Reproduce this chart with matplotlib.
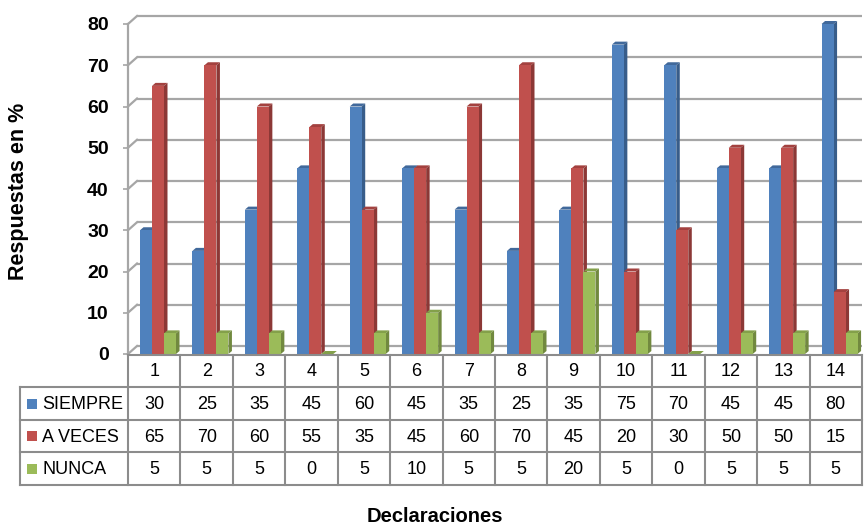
import numpy as np
import matplotlib
matplotlib.use("Agg")
import matplotlib.pyplot as plt
from matplotlib.patches import Polygon, Rectangle

plt.rcParams['font.family'] = ['Liberation Sans', 'DejaVu Sans']

categories = ['1', '2', '3', '4', '5', '6', '7', '8', '9', '10', '11', '12', '13', '14']
series_names = ['SIEMPRE', 'A VECES', 'NUNCA']
siempre = [30, 25, 35, 45, 60, 45, 35, 25, 35, 75, 70, 45, 45, 80]
a_veces = [65, 70, 60, 55, 35, 45, 60, 70, 45, 20, 30, 50, 50, 15]
nunca = [5, 5, 5, 0, 5, 10, 5, 5, 20, 5, 0, 5, 5, 5]
yticks = [0, 10, 20, 30, 40, 50, 60, 70, 80]

series = [siempre, a_veces, nunca]
face_colors = ['#4f81bd', '#c0504d', '#9bbb59']
side_colors = ['#385d8a', '#8c3836', '#71893f']
top_colors = ['#41699b', '#a3413f', '#83a04a']

W, H = 864, 525
fig = plt.figure(figsize=(W / 100, H / 100), dpi=100)
fig.patch.set_facecolor('white')

# plot area in pixels (front plane)
px_left, px_right = 128, 862
px_zero, px_top = 354, 24
ax = fig.add_axes([px_left / W, (H - px_zero) / H,
                   (px_right - px_left) / W, (px_zero - px_top) / H])
n = len(categories)
ax.set_xlim(0, n)
ax.set_ylim(0, 80)
ax.patch.set_alpha(0)

dxu = n / (px_right - px_left)       # data units per pixel, x
dyu = 80 / (px_zero - px_top)        # data units per pixel, y

grid_c = '#a6a6a6'
# back wall gridlines with depth offset
wall_dx, wall_dy = 9 * dxu, 8 * dyu
for v in yticks:
    ax.plot([wall_dx, n], [v + wall_dy, v + wall_dy], color=grid_c, lw=1.6,
            clip_on=False, zorder=1, solid_capstyle='butt')
    ax.plot([0, wall_dx], [v, v + wall_dy], color=grid_c, lw=1.6,
            clip_on=False, zorder=1)

# 3D-style columns
bw = 12 * dxu
bar_dx, bar_dy = 3.5 * dxu, 3 * dyu
for i in range(n):
    for k, vals in enumerate(series):
        v = vals[i]
        x = i + bw * (k + 1)
        z = 2 + i * 3 + k
        if v > 0:
            ax.add_patch(Rectangle((x, 0), bw, v, facecolor=face_colors[k],
                                   edgecolor='none', zorder=z + 0.3, clip_on=False))
            ax.add_patch(Polygon([(x + bw, 0), (x + bw + bar_dx, bar_dy),
                                  (x + bw + bar_dx, v + bar_dy), (x + bw, v)],
                                 closed=True, facecolor=side_colors[k],
                                 edgecolor='none', zorder=z + 0.2, clip_on=False))
        ax.add_patch(Polygon([(x, v), (x + bar_dx, v + bar_dy),
                              (x + bw + bar_dx, v + bar_dy), (x + bw, v)],
                             closed=True, facecolor=top_colors[k],
                             edgecolor='none', zorder=z + 0.1, clip_on=False))

for s in ['top', 'right', 'bottom']:
    ax.spines[s].set_visible(False)
ax.spines['left'].set_color(grid_c)
ax.spines['left'].set_linewidth(1.6)
ax.set_xticks([])
ax.set_yticks(yticks)
ax.set_yticklabels([str(t) for t in yticks], fontsize=14, fontweight='bold')
ax.tick_params(axis='y', length=3.8, width=1.2, color=grid_c, pad=10)

# data table below the plot area (figure pixel coordinates)
tb = fig.add_axes([0, 0, 1, 1])
tb.set_xlim(0, W)
tb.set_ylim(H, 0)
tb.axis('off')
tb.patch.set_alpha(0)

line_c = '#8c8c8c'
col_w = (px_right - px_left) / n
row_y = [355, 387, 420, 452, 485]
tab_left = 20
lw = 1.5
# horizontal rules
tb.plot([px_left, px_right], [row_y[0], row_y[0]], color=line_c, lw=lw)
for y in row_y[1:]:
    tb.plot([tab_left, px_right], [y, y], color=line_c, lw=lw)
# vertical rules
tb.plot([tab_left, tab_left], [row_y[1], row_y[-1]], color=line_c, lw=lw)
for j in range(n + 1):
    xx = px_left + j * col_w
    tb.plot([xx, xx], [row_y[0], row_y[-1]], color=line_c, lw=lw)

fs = 13
for j, c in enumerate(categories):
    xc = px_left + (j + 0.5) * col_w
    tb.text(xc, (row_y[0] + row_y[1]) / 2 + 1, c, ha='center', va='center', fontsize=fs)
    for k, vals in enumerate(series):
        yc = (row_y[k + 1] + row_y[k + 2]) / 2 + 1
        tb.text(xc, yc, str(vals[j]), ha='center', va='center', fontsize=fs)

for k, name in enumerate(series_names):
    yc = (row_y[k + 1] + row_y[k + 2]) / 2
    tb.add_patch(Rectangle((27, yc - 5), 10, 10, facecolor=face_colors[k], edgecolor='none'))
    tb.text(42, yc + 1, name, ha='left', va='center', fontsize=fs)

fig.text(19 / W, 1 - 191 / H, 'Respuestas en %', rotation=90, ha='center', va='center',
         fontsize=15.5, fontweight='bold')
fig.text(435 / W, 1 - 516 / H, 'Declaraciones', ha='center', va='center',
         fontsize=14.5, fontweight='bold')

fig.savefig('out.png', dpi=100, facecolor='white')
